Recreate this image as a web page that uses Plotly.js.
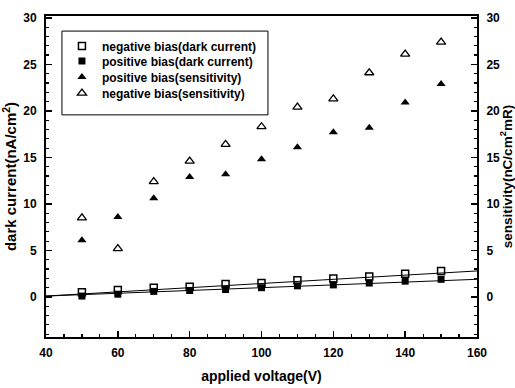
<!DOCTYPE html>
<html>
<head>
<meta charset="utf-8">
<script src="https://cdn.plot.ly/plotly-3.0.1.min.js"></script>
<style>html,body{margin:0;padding:0;background:#fff;}#chart{width:515px;height:388px;}</style>
</head>
<body>
<div id="chart"></div>
<script>
// Data
const voltage = [50, 60, 70, 80, 90, 100, 110, 120, 130, 140, 150];
const darkNeg = [0.5, 0.75, 1.0, 1.1, 1.4, 1.5, 1.8, 2.0, 2.2, 2.5, 2.8];
const darkPos = [0.1, 0.3, 0.6, 0.7, 0.8, 1.0, 1.2, 1.3, 1.5, 1.7, 1.9];
const sensPos = [6.1, 8.6, 10.6, 12.9, 13.2, 14.8, 16.1, 17.7, 18.2, 20.9, 22.9];
const sensNeg = [8.5, 5.2, 12.4, 14.6, 16.4, 18.3, 20.4, 21.3, 24.1, 26.1, 27.4];
const fitX = [40, 160];
const fitNeg = [0.1, 2.8];
const fitPos = [0.1, 1.9];
const names = ["negative bias(dark current)", "positive bias(dark current)", "positive bias(sensitivity)", "negative bias(sensitivity)"];

const font = {family: "Liberation Sans, Arial, sans-serif", color: "#000", weight: "bold"};
const f = (s) => Object.assign({}, font, {size: s});
const traces = [
  {x: fitX, y: fitNeg, mode: "lines", line: {color: "#000", width: 1}, showlegend: false, hoverinfo: "skip"},
  {x: fitX, y: fitPos, mode: "lines", line: {color: "#000", width: 1}, showlegend: false, hoverinfo: "skip"},
  {x: voltage, y: darkNeg, name: names[0], legend: "legend", mode: "markers", marker: {symbol: "square-open", size: 7, color: "#000", line: {width: 1.5}}},
  {x: voltage, y: darkPos, name: names[1], legend: "legend2", mode: "markers", marker: {symbol: "square", size: 7, color: "#000"}},
  {x: voltage, y: sensPos, name: names[2], legend: "legend3", mode: "markers", yaxis: "y2", marker: {symbol: "triangle-up", size: 8, color: "#000"}},
  {x: voltage, y: sensNeg, name: names[3], legend: "legend4", mode: "markers", yaxis: "y2", marker: {symbol: "triangle-up-open", size: 8, color: "#000", line: {width: 1.3}}}
];
const yRange = [-4.3, 30.2];
function yAxis(extra) {
  return Object.assign({
    range: yRange, tick0: 0, dtick: 5, ticks: "inside", ticklen: 6, tickwidth: 1.5, tickcolor: "#000",
    showline: true, linecolor: "#000", linewidth: 2, showgrid: false, zeroline: false,
    ticklabelstandoff: 5,
    minor: {dtick: 1, tick0: 0, ticks: "inside", ticklen: 3, tickwidth: 1.2, tickcolor: "#000", showgrid: false},
    tickfont: f(12)
  }, extra);
}
function leg(y) {
  return {x: 0.037, y: y, xanchor: "left", yanchor: "middle", borderwidth: 0, bgcolor: "rgba(0,0,0,0)",
          font: f(12), itemwidth: 30};
}
const layout = {
  width: 515, height: 388,
  margin: {l: 46, r: 38, t: 16, b: 51},
  paper_bgcolor: "#fff", plot_bgcolor: "#fff",
  font: f(11),
  showlegend: true,
  legend: leg(0.9065), legend2: leg(0.8598), legend3: leg(0.81), legend4: leg(0.760),
  shapes: [{type: "rect", xref: "paper", yref: "paper", x0: 0.037, x1: 0.515, y0: 0.692, y1: 0.953,
            line: {color: "#000", width: 1}, fillcolor: "rgba(0,0,0,0)", layer: "above"}],
  xaxis: {range: [40, 160], dtick: 20, tick0: 40, ticks: "inside", ticklen: 6, tickwidth: 1.5, tickcolor: "#000",
          showline: true, linecolor: "#000", linewidth: 2, mirror: true, showgrid: false, zeroline: false,
          ticklabelstandoff: 4,
          minor: {dtick: 5, tick0: 40, ticks: "inside", ticklen: 3, tickwidth: 1.2, tickcolor: "#000", showgrid: false},
          tickfont: f(12),
          title: {text: "applied voltage(V)", font: f(14), standoff: 12}},
  yaxis: yAxis({title: {text: "dark current(nA/cm<sup>2</sup>)", font: f(15), standoff: 10}}),
  yaxis2: yAxis({overlaying: "y", side: "right",
                 title: {text: "sensitivity(nC/cm<sup>2</sup>mR)", font: f(13.5), standoff: 2}})
};
Plotly.newPlot("chart", traces, layout, {displayModeBar: false, staticPlot: true});
</script>
</body>
</html>
